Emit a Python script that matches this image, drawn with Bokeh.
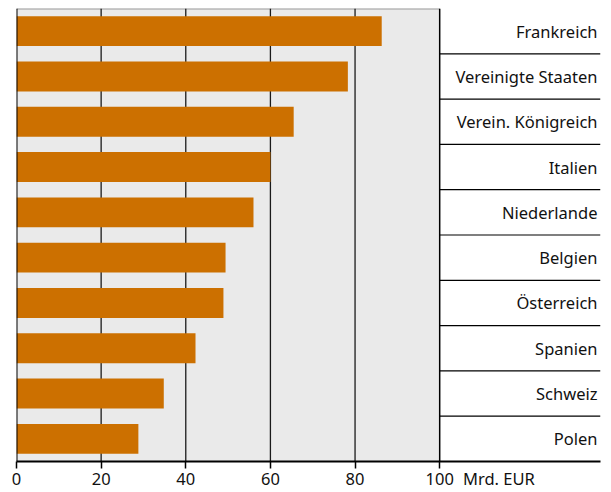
from bokeh.plotting import figure
from bokeh.models import Range1d, FixedTicker, LinearAxis
from bokeh.embed import file_html
from bokeh.resources import INLINE
from bokeh.core.properties import value

# Data (top to bottom as in the chart)
countries = ["Frankreich", "Vereinigte Staaten", "Verein. Königreich", "Italien",
             "Niederlande", "Belgien", "Österreich", "Spanien", "Schweiz", "Polen"]
values = [86.3, 78.3, 65.5, 60.0, 56.0, 49.4, 48.9, 42.3, 34.8, 28.8]
ticks = [0, 20, 40, 60, 80, 100]
unit_label = "Mrd. EUR"
unit_pos = 114.0

FONT = "Noto Sans"
FSIZE = "16.5px"
BAR = "#CC7000"
BG = "#EAEAEA"

n = len(countries)
ypos = [n - 1 - i for i in range(n)]  # first country on top
xmax = ticks[-1]
xend = 138

p = figure(width=603, height=492, output_backend="svg", toolbar_location=None,
           x_range=Range1d(0, xend), y_range=Range1d(-0.5, n - 0.5),
           x_axis_location=None, y_axis_location=None,
           min_border_left=16, min_border_right=3, min_border_top=8, min_border_bottom=29)
p.outline_line_color = None
p.background_fill_color = "white"
p.border_fill_color = "white"
p.xgrid.visible = False
p.ygrid.visible = False

# grey plot area
p.quad(left=[0], right=[xmax], bottom=[-0.5], top=[n - 0.5], fill_color=BG, line_color=None)
# top grey border
p.segment(x0=[0], x1=[xmax], y0=[n - 0.5], y1=[n - 0.5], line_color="#9a9a9a", line_width=2)
# vertical grid lines
grid = ticks[1:-1]
p.segment(x0=grid, x1=grid, y0=[-0.5] * len(grid), y1=[n - 0.5] * len(grid),
          line_color="#1a1a1a", line_width=1.3)

# bars
p.hbar(y=ypos, right=values, left=0, height=0.66, fill_color=BAR, line_color=None)

# right border of the plot area and left axis line
p.segment(x0=[xmax, 0], x1=[xmax, 0], y0=[-0.5, -0.5], y1=[n - 0.5, n - 0.5],
          line_color="black", line_width=[1.5, 2])

# table separators
seps = [k - 0.5 for k in range(1, n)]
p.segment(x0=[xmax] * len(seps), x1=[xend] * len(seps), y0=seps, y1=seps,
          line_color="black", line_width=1.2)

# country labels
p.text(x=[xend] * n, y=ypos, text=countries, x_offset=-3, text_align="right",
       text_baseline="middle", text_font=value(FONT), text_font_size=FSIZE,
       text_color="#111111")

# x axis line + tick marks (labels not drawn)
ax1 = LinearAxis(ticker=FixedTicker(ticks=ticks))
ax1.axis_line_width = 2
ax1.axis_line_color = "black"
ax1.major_tick_line_color = "black"
ax1.major_tick_line_width = 1.5
ax1.major_tick_in = 0
ax1.major_tick_out = 7
ax1.minor_tick_line_color = None
ax1.major_label_text_color = None
ax1.major_label_text_font_size = "0px"
ax1.major_label_standoff = 0
p.add_layout(ax1, "below")

# tick labels + unit
ax2 = LinearAxis(ticker=FixedTicker(ticks=ticks + [unit_pos]),
                 major_label_overrides={unit_pos: unit_label})
ax2.axis_line_color = None
ax2.major_tick_line_color = None
ax2.minor_tick_line_color = None
ax2.major_tick_in = 0
ax2.major_tick_out = 0
ax2.major_label_text_font = FONT
ax2.major_label_text_font_size = FSIZE
ax2.major_label_text_color = "#111111"
ax2.major_label_standoff = -2
p.add_layout(ax2, "below")

open("out.html", "w").write(file_html(p, INLINE))
